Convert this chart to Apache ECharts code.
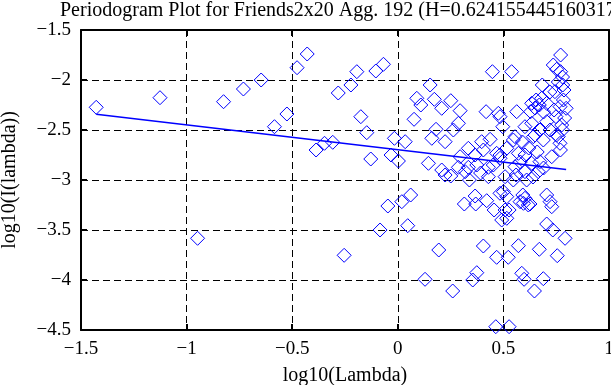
<!DOCTYPE html>
<html>
<head>
<meta charset="utf-8">
<script src="https://cdn.jsdelivr.net/npm/echarts@6/dist/echarts.min.js"></script>
<style>
html,body{margin:0;padding:0;background:#fff;}
#c{width:611px;height:385px;}
</style>
</head>
<body>
<div id="c"></div>
<script>
var titleText = "Periodogram Plot for Friends2x20 Agg. 192 (H=0.6241554451603173)";
var xAxisName = "log10(Lambda)";
var yAxisName = "log10(I(lambda))";
var xTicks = [-1.5, -1, -0.5, 0, 0.5, 1];
var yTicks = [-4.5, -4, -3.5, -3, -2.5, -2, -1.5];

var pointX = [
-1.428,-1.126,-0.948,-0.825,-0.731,-0.647,-0.584,-0.525,-0.477,-0.429,
-0.387,-0.347,-0.308,-0.282,-0.254,-0.222,-0.194,-0.175,-0.147,-0.128,
-0.104,-0.084,-0.068,-0.047,-0.032,-0.016,0.003,0.019,0.035,0.047,
0.061,0.077,0.090,0.109,0.129,0.145,0.153,0.161,0.173,0.181,
0.194,0.208,0.208,0.224,0.224,0.251,0.251,0.260,0.263,0.287,
0.287,0.295,0.295,0.315,0.319,0.334,0.334,0.339,0.355,0.366,
0.366,0.369,0.374,0.374,0.397,0.405,0.405,0.418,0.421,0.429,
0.429,0.437,0.448,0.456,0.464,0.468,0.468,0.476,0.484,0.484,
0.484,0.484,0.492,0.497,0.500,0.508,0.508,0.516,0.516,0.516,
0.523,0.527,0.527,0.539,0.547,0.547,0.555,0.555,0.563,0.571,
0.571,0.579,0.587,0.595,0.598,0.602,0.602,0.602,0.602,0.610,
0.618,0.626,0.629,0.634,0.634,0.634,0.642,0.647,0.650,0.655,
0.665,0.670,0.670,0.673,0.673,0.681,0.684,0.689,0.689,0.705,
0.705,0.705,0.705,0.721,0.721,0.729,0.729,0.734,0.736,0.744,
0.749,0.752,0.752,0.755,0.760,0.768,0.768,0.771,0.771,0.776,
0.781,0.784,0.787,0.792,0.797,0.592,0.392,0.452,0.580,0.620,
0.660,0.590,0.690,0.640,0.560,0.650,0.690,0.720,0.760,0.780,
0.740,0.790,0.770,0.780
];
var pointY = [
-2.273,-2.177,-3.583,-2.217,-2.090,-2.000,-2.467,-2.340,-1.877,-1.740,
-2.700,-2.633,-2.623,-2.130,-3.753,-2.050,-1.917,-2.367,-2.527,-2.790,
-1.910,-3.500,-1.843,-3.260,-2.750,-2.583,-2.810,-3.217,-2.617,-3.457,
-3.150,-2.393,-2.183,-2.250,-3.993,-2.833,-2.050,-2.583,-2.193,-2.493,
-3.700,-2.283,-2.900,-2.617,-2.950,-2.207,-2.960,-4.110,-2.500,-2.433,
-2.873,-2.307,-2.767,-3.240,-2.917,-2.683,-2.873,-3.000,-4.000,-2.750,
-3.160,-3.240,-2.850,-3.927,-2.617,-2.700,-3.660,-2.317,-3.207,-2.873,
-2.967,-2.593,-1.917,-3.300,-4.467,-2.733,-3.773,-2.333,-2.783,-3.133,
-2.367,-2.750,-3.400,-2.467,-3.117,-2.967,-3.300,-2.683,-3.167,-3.383,
-3.773,-3.300,-4.467,-1.917,-2.600,-3.000,-2.567,-2.867,-2.317,-2.733,
-3.657,-3.217,-3.933,-3.233,-3.993,-2.467,-2.750,-2.917,-3.183,-3.000,
-3.250,-3.240,-2.317,-2.233,-2.433,-2.833,-2.567,-4.110,-2.550,-2.200,
-2.917,-2.250,-3.693,-2.500,-2.817,-2.183,-2.050,-2.600,-3.987,-2.233,
-2.417,-3.150,-3.440,-2.500,-3.217,-2.767,-3.267,-3.500,-1.850,-2.117,
-2.367,-1.893,-2.550,-3.757,-2.567,-2.267,-2.633,-1.750,-1.917,-2.450,
-2.050,-2.200,-2.100,-3.583,-2.283,-3.150,-2.930,-2.850,-2.820,-2.680,
-2.720,-2.620,-2.880,-2.970,-2.950,-2.280,-2.320,-2.120,-2.020,-1.970,
-2.300,-2.380,-2.700,-2.500
];
var fitX = [-1.428, 0.797];
var fitY = [-2.343, -2.896];

var fmt = function (v) { return String(v).replace('-', '\u2212'); };
var FONT = '"Liberation Serif","Times New Roman",serif';

var pts = pointX.map(function (x, i) { return [x, pointY[i]]; });
var fit = fitX.map(function (x, i) { return [x, fitY[i]]; });

var chart = echarts.init(document.getElementById('c'), null, {renderer: 'canvas'});
var axisLineStyle = {onZero: false, lineStyle: {color: '#000', width: 2}};
var tickStyle = {show: true, inside: true, length: 6, lineStyle: {color: '#000', width: 2}};
var splitStyle = {show: true, lineStyle: {color: '#000', width: 1, type: [7, 4]}};
chart.setOption({
  animation: false,
  backgroundColor: '#fff',
  title: {
    text: titleText, left: 55, top: -4,
    textStyle: {fontFamily: FONT, fontSize: 20, fontWeight: 'normal', color: '#000'}
  },
  grid: {left: 81, top: 30, right: 2, bottom: 55, containLabel: false, outerBoundsMode: 'none'},
  xAxis: [{
    type: 'value', min: xTicks[0], max: xTicks[xTicks.length - 1], interval: 0.5,
    position: 'bottom',
    name: xAxisName, nameLocation: 'middle', nameGap: 36,
    nameTextStyle: {fontFamily: FONT, fontSize: 20, color: '#000'},
    axisLine: axisLineStyle, axisTick: tickStyle,
    axisLabel: {formatter: fmt, fontFamily: FONT, fontSize: 19, color: '#000', margin: 10},
    splitLine: splitStyle
  }, {
    type: 'value', min: xTicks[0], max: xTicks[xTicks.length - 1], interval: 0.5,
    position: 'top',
    axisLine: axisLineStyle, axisTick: tickStyle,
    axisLabel: {show: false}, splitLine: {show: false}
  }],
  yAxis: [{
    type: 'value', min: yTicks[0], max: yTicks[yTicks.length - 1], interval: 0.5,
    position: 'left',
    name: yAxisName, nameLocation: 'middle', nameGap: 61, nameRotate: 90,
    nameTextStyle: {fontFamily: FONT, fontSize: 20, color: '#000'},
    axisLine: axisLineStyle, axisTick: tickStyle,
    axisLabel: {formatter: fmt, fontFamily: FONT, fontSize: 19, color: '#000', margin: 10},
    splitLine: splitStyle
  }, {
    type: 'value', min: yTicks[0], max: yTicks[yTicks.length - 1], interval: 0.5,
    position: 'right',
    axisLine: axisLineStyle, axisTick: tickStyle,
    axisLabel: {show: false}, splitLine: {show: false}
  }],
  series: [{
    type: 'scatter', data: pts, symbol: 'diamond', symbolSize: 14,
    itemStyle: {color: 'rgba(0,0,0,0)', borderColor: '#0000ff', borderWidth: 1, opacity: 1},
    silent: true, z: 3
  }, {
    type: 'line', data: fit, symbol: 'none',
    lineStyle: {color: '#0000ff', width: 1.5},
    silent: true, z: 4
  }]
});
</script>
</body>
</html>
